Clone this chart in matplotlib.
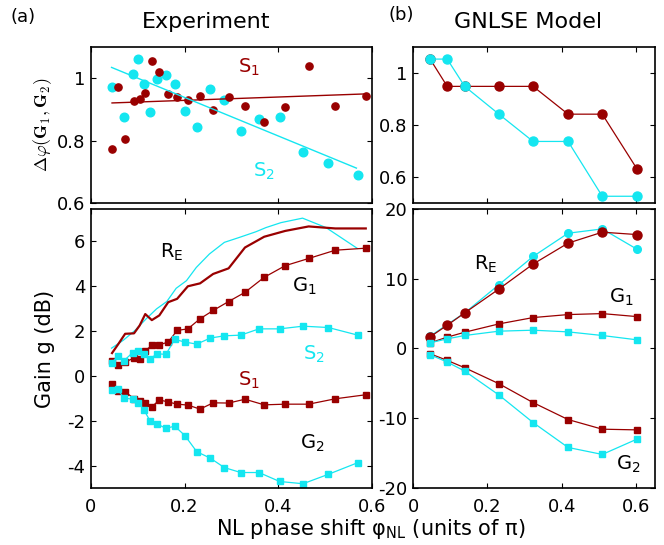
import numpy as np
import matplotlib
matplotlib.use("Agg")
import matplotlib.pyplot as plt
from matplotlib.ticker import FormatStrFormatter

RED = "#990000"
CYAN = "#14e6f0"

# ---- Experiment: phase difference (top left) ----
s2_x = [0.044, 0.070, 0.089, 0.101, 0.113, 0.126, 0.142, 0.160, 0.179, 0.201,
        0.226, 0.255, 0.285, 0.320, 0.359, 0.403, 0.453, 0.507, 0.570]
s2_phase = [0.971, 0.876, 1.015, 1.062, 0.981, 0.891, 0.999, 1.010, 0.982, 0.895,
            0.844, 0.967, 0.931, 0.832, 0.871, 0.877, 0.764, 0.727, 0.689]
s1_x = [0.045, 0.058, 0.073, 0.092, 0.104, 0.116, 0.130, 0.146, 0.165, 0.184,
        0.207, 0.233, 0.261, 0.294, 0.329, 0.370, 0.415, 0.465, 0.522, 0.587]
s1_phase = [0.772, 0.971, 0.806, 0.926, 0.933, 0.954, 1.055, 1.020, 0.950, 0.941,
            0.931, 0.944, 0.898, 0.940, 0.911, 0.859, 0.908, 1.039, 0.912, 0.944]
s1_fit_x = [0.045, 0.587]
s1_fit = [0.921, 0.950]
s2_fit_x = [0.044, 0.567]
s2_fit = [1.035, 0.712]

# ---- Experiment: gain (bottom left) ----
s2g_x = [0.044, 0.057, 0.070, 0.089, 0.101, 0.113, 0.126, 0.142, 0.160, 0.179,
         0.201, 0.226, 0.255, 0.285, 0.320, 0.359, 0.403, 0.453, 0.507, 0.570]
exp_s2 = [0.59, 0.87, 0.67, 1.04, 1.10, 0.98, 0.77, 0.99, 0.96, 1.63,
          1.51, 1.42, 1.69, 1.79, 1.82, 2.10, 2.10, 2.22, 2.16, 1.82]
exp_g2 = [-0.64, -0.59, -0.98, -1.04, -1.19, -1.51, -2.00, -2.15, -2.34, -2.24,
          -2.67, -3.38, -3.67, -4.09, -4.31, -4.31, -4.71, -4.81, -4.39, -3.87]
exp_g1 = [0.65, 0.50, 0.62, 0.80, 0.77, 1.13, 1.36, 1.39, 1.51, 2.03,
          2.10, 2.55, 2.92, 3.32, 3.73, 4.40, 4.92, 5.24, 5.61, 5.70]
exp_s1 = [-0.34, -0.68, -0.71, -1.01, -1.10, -1.19, -1.38, -1.07, -1.16, -1.26,
          -1.30, -1.48, -1.20, -1.21, -1.04, -1.29, -1.26, -1.26, -1.02, -0.84]
exp_re_red = [1.02, 1.41, 1.88, 1.90, 2.25, 2.76, 2.49, 2.70, 3.29, 3.44,
              4.00, 4.13, 4.55, 4.80, 5.73, 6.21, 6.47, 6.67, 6.58, 6.58]
re_cyan_x = [0.044, 0.069, 0.094, 0.118, 0.140, 0.162, 0.182, 0.204, 0.225, 0.253,
             0.285, 0.317, 0.352, 0.374, 0.406, 0.452, 0.502, 0.569]
exp_re_cyan = [1.24, 1.59, 2.03, 2.55, 2.99, 3.32, 3.91, 4.25, 4.84, 5.44,
               5.96, 6.18, 6.43, 6.62, 6.84, 7.04, 6.62, 5.69]

# ---- GNLSE model ----
mod_x = [0.046, 0.092, 0.139, 0.231, 0.323, 0.417, 0.509, 0.602]
mod_phase_s1 = [1.054, 0.949, 0.949, 0.949, 0.949, 0.842, 0.842, 0.632]
mod_phase_s2 = [1.054, 1.054, 0.949, 0.842, 0.737, 0.737, 0.526, 0.526]
mod_re_red = [1.67, 3.33, 5.10, 8.52, 12.1, 15.1, 16.67, 16.33]
mod_re_cyan = [1.76, 3.43, 5.10, 9.14, 13.19, 16.52, 17.14, 14.24]
mod_g1_red = [0.81, 1.62, 2.33, 3.52, 4.43, 4.86, 5.00, 4.57]
mod_g1_cyan = [0.81, 1.38, 1.86, 2.48, 2.62, 2.38, 1.86, 1.24]
mod_g2_red = [-0.76, -1.71, -2.76, -5.05, -7.76, -10.19, -11.57, -11.67]
mod_g2_cyan = [-0.90, -1.95, -3.24, -6.67, -10.62, -14.19, -15.19, -13.00]

FS = 13


def style(ax, xlim, ylim, yticks, xlabels):
    ax.set_xlim(*xlim)
    ax.set_ylim(*ylim)
    ax.set_xticks([0, 0.2, 0.4, 0.6])
    ax.set_yticks(yticks)
    ax.tick_params(direction="in", top=True, right=True, length=3.5,
                   width=0.8, labelsize=FS)
    ax.tick_params(axis="x", pad=7)
    ax.tick_params(axis="y", pad=4)
    ax.yaxis.set_major_formatter(FormatStrFormatter("%g"))
    ax.xaxis.set_major_formatter(FormatStrFormatter("%g"))
    if not xlabels:
        ax.set_xticklabels([])
    for sp in ax.spines.values():
        sp.set_linewidth(1.2)


fig = plt.figure(figsize=(6.64, 5.45), dpi=100)
ax1 = fig.add_axes([0.137, 0.6275, 0.423, 0.286])
ax2 = fig.add_axes([0.137, 0.1046, 0.423, 0.512])
ax3 = fig.add_axes([0.622, 0.6275, 0.364, 0.286])
ax4 = fig.add_axes([0.622, 0.1046, 0.364, 0.512])

# top left
ax1.plot(s2_x, s2_phase, "o", color=CYAN, ms=6.2, mec=CYAN)
ax1.plot(s1_x, s1_phase, "o", color=RED, ms=5.2, mec=RED)
ax1.plot(s1_fit_x, s1_fit, "-", color=RED, lw=1.0)
ax1.plot(s2_fit_x, s2_fit, "-", color=CYAN, lw=1.0)
ax1.text(0.338, 1.036, "S$_1$", color=RED, fontsize=14, ha="center", va="center")
ax1.text(0.37, 0.70, "S$_2$", color=CYAN, fontsize=14, ha="center", va="center")
style(ax1, (0, 0.6), (0.6, 1.1), [0.6, 0.8, 1.0], False)
ax1.set_ylabel(r"$\mathbf{\Delta}\varphi(\mathbf{G_1},\mathbf{G_2})$", fontsize=13,
               math_fontfamily="cm", labelpad=2)

# bottom left
ax2.plot(re_cyan_x, exp_re_cyan, "-", color=CYAN, lw=0.9)
ax2.plot(s1_x, exp_re_red, "-", color=RED, lw=1.6)
ax2.plot(s1_x, exp_g1, "s-", color=RED, ms=4.6, lw=0.9)
ax2.plot(s1_x, exp_s1, "s-", color=RED, ms=4.6, lw=0.9)
ax2.plot(s2g_x, exp_s2, "s-", color=CYAN, ms=4.6, lw=0.9)
ax2.plot(s2g_x, exp_g2, "s-", color=CYAN, ms=4.6, lw=0.9)
ax2.text(0.172, 5.5, "R$_{\\mathrm{E}}$", color="black", fontsize=14, ha="center", va="center")
ax2.text(0.455, 4.0, "G$_1$", color="black", fontsize=14, ha="center", va="center")
ax2.text(0.477, 0.98, "S$_2$", color=CYAN, fontsize=14, ha="center", va="center")
ax2.text(0.338, -0.2, "S$_1$", color=RED, fontsize=14, ha="center", va="center")
ax2.text(0.473, -3.0, "G$_2$", color="black", fontsize=14, ha="center", va="center")
style(ax2, (0, 0.6), (-5, 7.45), [-4, -2, 0, 2, 4, 6], True)
ax2.set_ylabel("Gain g (dB)", fontsize=15, labelpad=9)

# top right
ax3.plot(mod_x, mod_phase_s1, "o-", color=RED, ms=6.5, lw=0.9)
ax3.plot(mod_x, mod_phase_s2, "o-", color=CYAN, ms=6.5, lw=0.9)
style(ax3, (0, 0.65), (0.5, 1.1), [0.6, 0.8, 1.0], False)

# bottom right
ax4.plot(mod_x, mod_re_cyan, "o-", color=CYAN, ms=5.5, lw=0.9)
ax4.plot(mod_x, mod_re_red, "o-", color=RED, ms=6.5, lw=0.9)
ax4.plot(mod_x, mod_g1_red, "s-", color=RED, ms=5, lw=0.9)
ax4.plot(mod_x, mod_g1_cyan, "s-", color=CYAN, ms=5, lw=0.9)
ax4.plot(mod_x, mod_g2_red, "s-", color=RED, ms=5, lw=0.9)
ax4.plot(mod_x, mod_g2_cyan, "s-", color=CYAN, ms=5, lw=0.9)
ax4.text(0.195, 12, "R$_{\\mathrm{E}}$", color="black", fontsize=14, ha="center", va="center")
ax4.text(0.56, 7.3, "G$_1$", color="black", fontsize=14, ha="center", va="center")
ax4.text(0.58, -16.6, "G$_2$", color="black", fontsize=14, ha="center", va="center")
style(ax4, (0, 0.65), (-20, 20), [-20, -10, 0, 10, 20], True)

fig.text(0.035, 0.968, "(a)", fontsize=13, ha="center", va="center")
fig.text(0.605, 0.972, "(b)", fontsize=13, ha="center", va="center")
fig.text(0.31, 0.96, "Experiment", fontsize=16, ha="center", va="center")
fig.text(0.795, 0.96, "GNLSE Model", fontsize=16, ha="center", va="center")
fig.text(0.558, 0.03, "NL phase shift φ$_{\\mathrm{NL}}$ (units of π)", fontsize=15,
         ha="center", va="center")

fig.savefig("out.png", dpi=100)
